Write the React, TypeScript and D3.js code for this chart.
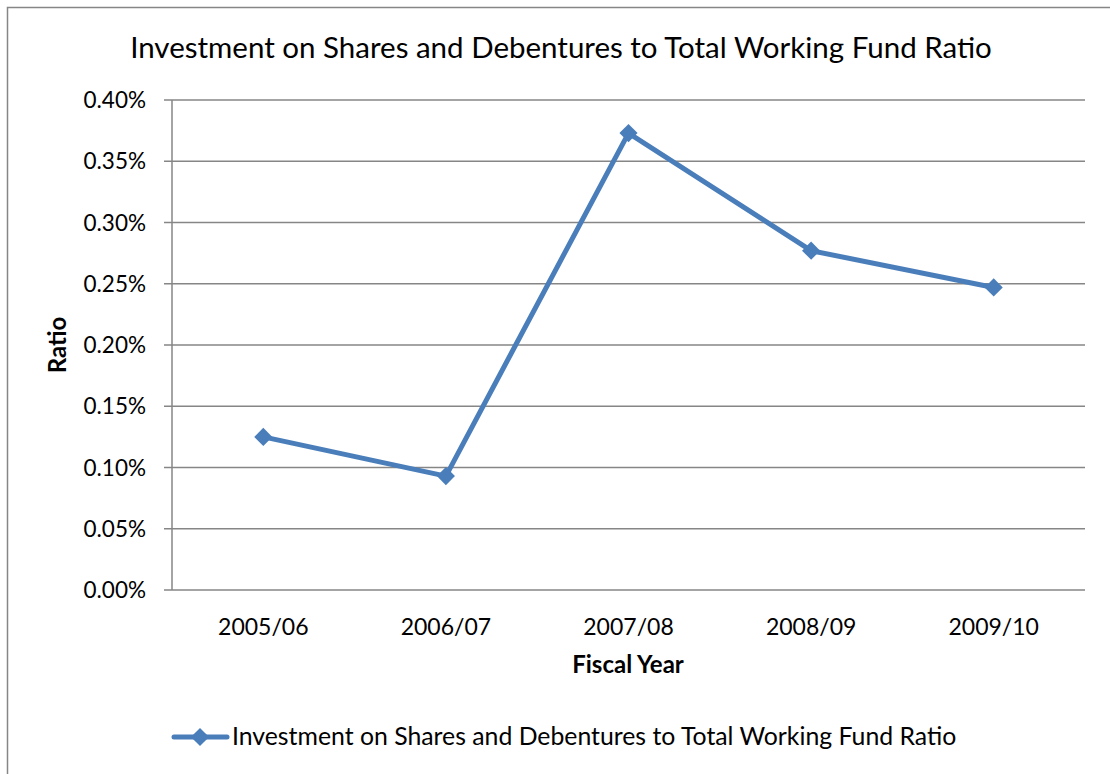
import React, { useRef, useEffect } from 'react';
import * as d3 from 'd3';

const years = ['2005/06', '2006/07', '2007/08', '2008/09', '2009/10'];
const ratios = [0.125, 0.093, 0.373, 0.277, 0.247];
const yTicks = [0, 0.05, 0.1, 0.15, 0.2, 0.25, 0.3, 0.35, 0.4];

const TITLE = 'Investment on Shares and Debentures to Total Working Fund Ratio';
const FONT = 'Lato, "Open Sans", sans-serif';
const BLUE = '#4A7EBB';

const App: React.FC = () => {
  const svgRef = useRef<SVGSVGElement>(null);

  useEffect(() => {
    if (!svgRef.current) return;
    const width = 1110;
    const height = 774;
    const svg = d3.select(svgRef.current);
    svg.selectAll('*').remove();
    svg.attr('width', width).attr('height', height);

    // outer chart frame
    svg.append('rect')
      .attr('x', 7.5).attr('y', 7.5)
      .attr('width', width + 10).attr('height', height + 10)
      .attr('fill', 'white').attr('stroke', '#868686').attr('stroke-width', 1.5);

    const left = 172;
    const right = 1085;
    const top = 100;
    const bottom = 590;

    const x = d3.scaleBand<string>().domain(years).range([left, right]);
    const y = d3.scaleLinear().domain([0, 0.4]).range([bottom, top]);

    svg.append('text')
      .attr('x', 561).attr('y', 58)
      .attr('text-anchor', 'middle')
      .attr('font-family', FONT).attr('font-size', 29.5)
      .attr('fill', '#000')
      .text(TITLE);

    // gridlines + y ticks
    const grid = svg.append('g');
    yTicks.forEach((t) => {
      grid.append('line')
        .attr('x1', left - 8).attr('x2', right)
        .attr('y1', y(t)).attr('y2', y(t))
        .attr('stroke', '#868686').attr('stroke-width', 1.5);
      grid.append('text')
        .attr('x', 146).attr('y', y(t) + 8)
        .attr('text-anchor', 'end')
        .attr('font-family', FONT).attr('font-size', 22.5)
        .text(`${t.toFixed(2)}%`);
    });

    // y axis line
    svg.append('line')
      .attr('x1', left).attr('x2', left)
      .attr('y1', top).attr('y2', bottom)
      .attr('stroke', '#868686').attr('stroke-width', 1.5);

    // x tick labels
    years.forEach((yr) => {
      svg.append('text')
        .attr('x', (x(yr) ?? 0) + x.bandwidth() / 2).attr('y', 635)
        .attr('text-anchor', 'middle')
        .attr('font-family', FONT).attr('font-size', 23)
        .text(yr);
    });

    svg.append('text')
      .attr('x', 628).attr('y', 673)
      .attr('text-anchor', 'middle')
      .attr('font-family', FONT).attr('font-size', 24).attr('font-weight', 'bold')
      .text('Fiscal Year');

    svg.append('text')
      .attr('transform', `translate(66, ${(top + bottom) / 2}) rotate(-90)`)
      .attr('text-anchor', 'middle')
      .attr('font-family', FONT).attr('font-size', 24).attr('font-weight', 'bold')
      .text('Ratio');

    const cx = (i: number) => (x(years[i]) ?? 0) + x.bandwidth() / 2;

    const line = d3.line<number>()
      .x((_, i) => cx(i))
      .y((d) => y(d));

    svg.append('path')
      .datum(ratios)
      .attr('d', line)
      .attr('fill', 'none')
      .attr('stroke', BLUE).attr('stroke-width', 5)
      .attr('stroke-linejoin', 'round');

    const diamond = d3.symbol().type(d3.symbolDiamond2).size(210);
    svg.selectAll('.marker')
      .data(ratios)
      .enter()
      .append('path')
      .attr('class', 'marker')
      .attr('d', diamond)
      .attr('transform', (d, i) => `translate(${cx(i)}, ${y(d)})`)
      .attr('fill', BLUE);

    // legend
    const ly = 737;
    svg.append('line')
      .attr('x1', 174).attr('x2', 227)
      .attr('y1', ly).attr('y2', ly)
      .attr('stroke', BLUE).attr('stroke-width', 5).attr('stroke-linecap', 'round');
    svg.append('path')
      .attr('d', diamond)
      .attr('transform', `translate(200, ${ly})`)
      .attr('fill', BLUE);
    svg.append('text')
      .attr('x', 232).attr('y', ly + 8)
      .attr('font-family', FONT).attr('font-size', 24.8)
      .text(TITLE);
  }, []);

  return (
    <div>
      <svg ref={svgRef} style={{ display: 'block', position: 'absolute', left: 0, top: 0 }} />
    </div>
  );
};

export default App;
